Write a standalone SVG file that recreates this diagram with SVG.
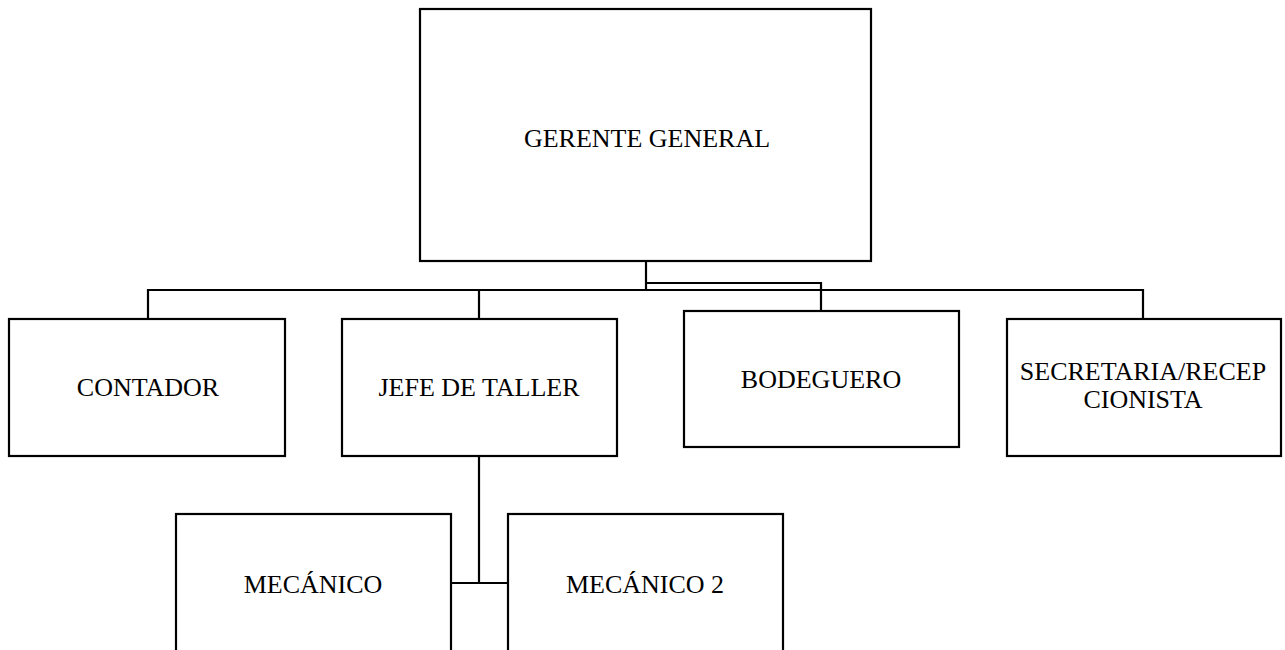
<svg xmlns="http://www.w3.org/2000/svg" width="1285" height="650" viewBox="0 0 1285 650">
<style>
.box{fill:#fff;stroke:#000;stroke-width:2.2}
.con{fill:none;stroke:#000;stroke-width:2.2}
.t{font-family:"Liberation Serif","Times New Roman",serif;font-size:26px;fill:#000;text-anchor:middle}
</style>
<rect width="1285" height="650" fill="#fff"/>
<g id="connectors">
<polyline class="con" points="646,261 646,290"/>
<polyline class="con" points="148,319 148,290 1143,290 1143,319"/>
<polyline class="con" points="479,290 479,319"/>
<polyline class="con" points="646,283 821,283 821,311"/>
<polyline class="con" points="479,456 479,583"/>
<polyline class="con" points="451,583 508,583"/>
</g>
<g id="gerente">
<rect class="box" x="420" y="9" width="451" height="252"/>
<text class="t" x="647" y="147">GERENTE GENERAL</text>
</g>
<g id="contador">
<rect class="box" x="9" y="319" width="276" height="137"/>
<text class="t" x="148" y="396">CONTADOR</text>
</g>
<g id="jefe">
<rect class="box" x="342" y="319" width="275" height="137"/>
<text class="t" x="479" y="396">JEFE DE TALLER</text>
</g>
<g id="bodeguero">
<rect class="box" x="684" y="311" width="275" height="136"/>
<text class="t" x="821" y="388">BODEGUERO</text>
</g>
<g id="secretaria">
<rect class="box" x="1007" y="319" width="274" height="137"/>
<text class="t" x="1143" y="380">SECRETARIA/RECEP</text>
<text class="t" x="1143" y="408">CIONISTA</text>
</g>
<g id="mecanico">
<rect class="box" x="176" y="514" width="275" height="150"/>
<text class="t" x="313" y="593">MECÁNICO</text>
</g>
<g id="mecanico2">
<rect class="box" x="508" y="514" width="275" height="150"/>
<text class="t" x="645" y="593">MECÁNICO 2</text>
</g>
</svg>
